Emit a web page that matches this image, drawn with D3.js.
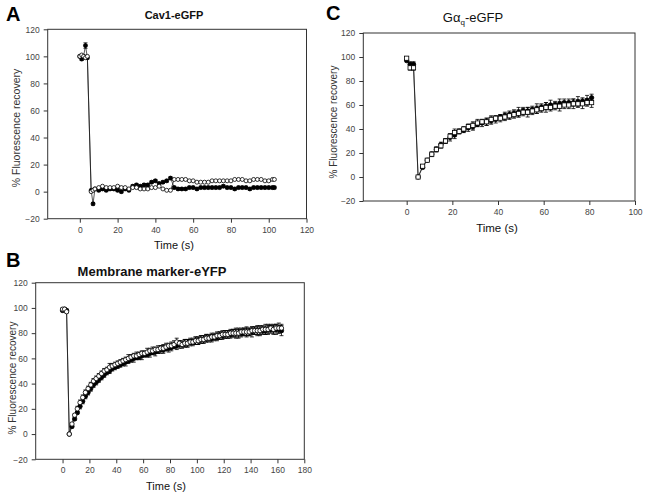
<!DOCTYPE html>
<html><head><meta charset="utf-8">
<script src="https://cdn.jsdelivr.net/npm/d3@7"></script>
<style>
html,body{margin:0;padding:0;background:#fff;}
svg{display:block;}
text{font-family:Arial,"Liberation Sans",sans-serif;}
</style></head>
<body>
<svg id="chart" width="649" height="500"></svg>
<script>
// ---------- Panel A : Cav1-eGFP ----------
const timeA = [0,1,2,3,4,6,7,8,10,12,14,16,18,20,22,24,26,28,30,32,34,36,38,40,42,44,46,48,50,52,54,56,58,60,62,64,66,68,70,72,74,76,78,80,82,84,86,88,90,92,94,96,98,100,102,103];
const filledA = [100,98,100,108,99,1,-9,
  2,1,2,1,2,2,1,0,2,1,4,5,4,5,5,7,8,6,7,8,10,
  3,2,2,2,3,3,2,3,3,3,3,3,3,4,3,3,2,3,3,3,2,3,3,3,3,3,3,3];
const openA = [100,101,100,99,100,0,1,
  2,3,4,3,3,3,4,3,3,2,3,3,2,2,2,3,3,4,2,1,1,
  9,9,9,9,8,8,7,7,7,7,8,8,8,8,8,8,9,9,9,8,8,9,9,9,8,8,9,9];
const errFilledA = [1,1,1,2,1,0,1,
  1,1,1,1,1,1,1,1,1,1,1,1,1,1,1,1,1,1,1,1,1,
  1,1,1,1,1,1,1,1,1,1,1,1,1,1,1,1,1,1,1,1,1,1,1,1,1,1,1,1];
const xTicksA = [0,20,40,60,80,100,120];

// ---------- Panel B : Membrane marker-eYFP ----------
const timeB = [0,1.5,3,5,7,9,11,13,15,17,19,21,23,25,27,29,31,33,35,37,39,41,43,45,47,49,51,53,55,57,59,61,63,65,67,69,71,73,75,77,79,81,83,85,87,89,91,93,95,97,99,101,103,105,107,109,111,113,115,117,119,121,123,125,127,129,131,133,135,137,139,141,143,145,147,149,151,153,155,157,159,161,163];
const filledB = [98,99,98,
  0,6,12,17,22,26,30,33,36,39,
  41,43,45,47,49,50,52,53,54,55,
  56,57,58,59,60,61,61,62,63,63,
  64,65,65,66,67,67,68,68,69,70,
  70,71,71,72,72,73,73,74,74,75,
  75,76,76,76,77,77,78,78,79,79,
  79,80,80,80,80,81,81,81,81,82,
  82,82,82,82,83,83,83,83,83,82];
const openB = [99,99,97,
  0,8,15,20,25,29,33,36,39,42,
  44,46,48,50,51,53,54,55,56,57,
  58,59,60,61,62,62,63,64,64,65,
  66,66,67,67,68,68,69,70,70,71,
  73,72,71,72,72,73,73,74,74,75,
  75,76,76,77,77,78,78,79,79,79,
  80,80,80,80,81,81,81,81,82,82,
  82,82,83,83,83,84,83,84,84,84];
const errFilledB = [1,1,1,
  0,1,1,1,2,2,2,2,2,2,
  2,2,2,2,2,2,2,2,2,2,
  2,3,2,2,3,2,2,3,2,2,
  3,2,3,2,3,3,2,3,3,2,
  3,3,2,3,3,3,2,3,3,3,
  3,3,3,3,2,3,3,3,3,3,
  3,3,3,4,3,3,3,3,4,3,
  3,4,3,3,4,3,3,4,3,4];
const errOpenB = [1,1,1,
  0,1,1,2,2,2,2,2,2,2,
  2,2,2,2,2,3,2,2,2,2,
  2,2,3,2,2,3,2,2,2,3,
  2,3,2,3,2,3,3,2,3,3,
  3,2,3,3,3,2,3,3,3,3,
  3,3,2,3,3,3,3,3,3,3,
  3,3,4,3,3,3,4,3,3,3,
  4,3,3,4,3,3,4,3,4,3];
const xTicksB = [0,20,40,60,80,100,120,140,160,180];

// ---------- Panel C : Gαq-eGFP ----------
const timeC = [0,1.5,3,5,7,9,11,13,15,17,19,21,23,25,27,29,31,33,35,37,39,41,43,45,47,49,51,53,55,57,59,61,63,65,67,69,71,73,75,77,79,81];
const filledC = [97,94,94,0,
  8,14,19,23,27,30,33,35,38,39,41,42,44,45,46,47,48,50,51,52,53,54,55,55,56,57,58,59,60,60,61,62,62,62,63,63,64,66];
const openC = [99,91,91,0,
  9,14,19,23,26,30,34,37,38,40,42,43,45,46,46,48,49,49,50,51,52,53,54,54,55,56,57,58,58,59,59,60,60,61,61,61,62,62];
const errFilledC = [1,2,2,0,1,1,2,2,2,2,3,3,2,2,3,3,2,3,3,3,3,2,3,3,3,4,3,3,3,4,3,3,4,3,4,3,3,3,4,3,4,3];
const errOpenC = [1,2,2,0,1,1,1,2,2,2,2,3,2,2,2,3,3,2,3,3,2,3,3,3,3,3,3,4,3,3,3,4,3,3,4,3,3,4,3,4,3,4];
const xTicksC = [0,20,40,60,80,100];

const yTicks = [-20,0,20,40,60,80,100,120];

const svg = d3.select("#chart");

function panel(cfg){
  const x = d3.scaleLinear().domain(cfg.xDomain).range([cfg.box[0], cfg.box[1]]);
  const y = d3.scaleLinear().domain([-20,120]).range([cfg.box[3], cfg.box[2]]);
  const g = svg.append("g");

  const xa = g.append("g").attr("transform",`translate(0,${cfg.box[3]})`)
    .call(d3.axisBottom(x).tickValues(cfg.xTicks).tickSize(4).tickPadding(4).tickFormat(d3.format("d")));
  const ya = g.append("g").attr("transform",`translate(${cfg.box[0]},0)`)
    .call(d3.axisLeft(y).tickValues(yTicks).tickSize(4).tickPadding(4).tickFormat(d3.format("d")));
  [xa,ya].forEach(a=>{
    a.select(".domain").remove();
    a.selectAll(".tick line").attr("stroke","#333").attr("stroke-width",1);
    a.selectAll(".tick text").attr("fill","#444").style("font-size","8.5px").style("font-family","Arial, 'Liberation Sans', sans-serif");
  });
  g.append("rect").attr("x",cfg.box[0]).attr("y",cfg.box[2])
    .attr("width",cfg.box[1]-cfg.box[0]).attr("height",cfg.box[3]-cfg.box[2])
    .attr("fill","none").attr("stroke","#333").attr("stroke-width",1);

  const series = cfg.series;
  series.forEach(s=>{
    if(!s.err) return;
    s.t.forEach((t,i)=>{
      const e = s.err[i]; if(!e) return;
      const cx = x(t), y1 = y(s.v[i]+e), y2 = y(s.v[i]-e);
      g.append("line").attr("x1",cx).attr("x2",cx).attr("y1",y1).attr("y2",y2).attr("stroke","#000").attr("stroke-width",0.8);
      [y1,y2].forEach(yy=>g.append("line").attr("x1",cx-2).attr("x2",cx+2).attr("y1",yy).attr("y2",yy).attr("stroke","#000").attr("stroke-width",0.8));
    });
  });
  const line = d3.line().x(d=>x(d[0])).y(d=>y(d[1]));
  series.forEach(s=>{
    g.append("path").datum(s.t.map((t,i)=>[t,s.v[i]])).attr("d",line)
      .attr("fill","none").attr("stroke","#111").attr("stroke-width",0.7);
  });
  series.forEach(s=>{
    const pts = s.t.map((t,i)=>[t,s.v[i]]);
    if(s.shape==="square"){
      g.selectAll(null).data(pts).enter().append("rect")
        .attr("x",d=>x(d[0])-2.1).attr("y",d=>y(d[1])-2.1).attr("width",4.2).attr("height",4.2)
        .attr("fill",s.fill).attr("stroke","#000").attr("stroke-width",0.8);
    } else {
      g.selectAll(null).data(pts).enter().append("circle")
        .attr("cx",d=>x(d[0])).attr("cy",d=>y(d[1])).attr("r",s.r||2.2)
        .attr("fill",s.fill).attr("stroke","#000").attr("stroke-width",0.8);
    }
  });

  g.append("text").attr("x",cfg.letter[0]).attr("y",cfg.letter[1]).text(cfg.letterText)
    .style("font-size","20px").style("font-weight","bold").attr("fill","#000");
  g.append("text").attr("transform",`translate(${cfg.ylab[0]},${cfg.ylab[1]}) rotate(-90)`)
    .attr("text-anchor","middle").attr("dominant-baseline","central")
    .style("font-size",cfg.ylab[2]+"px").attr("fill","#333").text("% Fluorescence recovery");
  g.append("text").attr("x",cfg.xlab[0]).attr("y",cfg.xlab[1]).attr("text-anchor","middle")
    .style("font-size",cfg.xlab[2]+"px").attr("fill","#111").text("Time (s)");
  return g;
}

const gA = panel({
  xDomain:[-17,120], box:[47.7,306.5,29.3,218.7], xTicks:xTicksA,
  series:[
    {t:timeA, v:filledA, err:errFilledA, fill:"#000", r:2},
    {t:timeA, v:openA, fill:"#fff", r:2}
  ],
  letter:[6,21], letterText:"A", ylab:[16,128,10.5], xlab:[174,249,11]
});
gA.append("text").attr("x",174).attr("y",19).attr("text-anchor","middle")
  .style("font-size","11px").style("font-weight","bold").attr("fill","#111").text("Cav1-eGFP");

const gB = panel({
  xDomain:[-20,180], box:[35.7,304.3,282.7,459.3], xTicks:xTicksB,
  series:[
    {t:timeB, v:filledB, err:errFilledB, fill:"#000"},
    {t:timeB, v:openB, err:errOpenB, fill:"#fff"}
  ],
  letter:[6,267], letterText:"B", ylab:[12.5,378,10], xlab:[166,490,11]
});
gB.append("text").attr("x",152).attr("y",276).attr("text-anchor","middle")
  .style("font-size","13px").style("font-weight","bold").attr("fill","#111").text("Membrane marker-eYFP");

const gC = panel({
  xDomain:[-19,100], box:[363.3,635,33,201], xTicks:xTicksC,
  series:[
    {t:timeC, v:filledC, err:errFilledC, fill:"#000"},
    {t:timeC, v:openC, err:errOpenC, fill:"#fff", shape:"square"}
  ],
  letter:[326,20], letterText:"C", ylab:[333.5,122,10], xlab:[497,232,11.5]
});
const tC = gC.append("text").attr("x",473).attr("y",22).attr("text-anchor","middle")
  .style("font-size","13px").attr("fill","#111");
tC.append("tspan").text("G\u03b1");
tC.append("tspan").attr("dy",3).style("font-size","8px").text("q");
tC.append("tspan").attr("dy",-3).text("-eGFP");
</script>
</body></html>
